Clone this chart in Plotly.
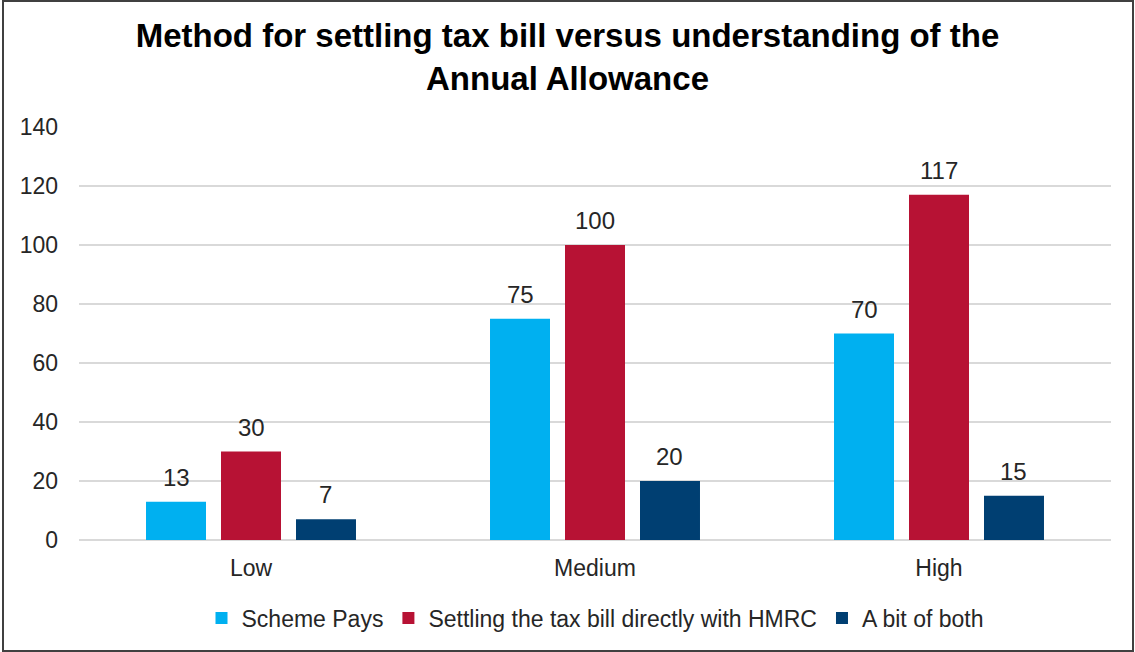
import plotly.graph_objects as go

categories = ["Low", "Medium", "High"]
scheme_pays = [13, 75, 70]
settling_hmrc = [30, 100, 117]
bit_of_both = [7, 20, 15]
series_names = ["Scheme Pays", "Settling the tax bill directly with HMRC", "A bit of both"]
colors = ["#00B0F0", "#B71234", "#003F72"]

W, H = 1135, 652
ml, mr, mt, mb = 79, 24, 127, 112
pw, ph = W - ml - mr, H - mt - mb
BARGAP, GROUPGAP = 0.346, 0.2
slot = (1 - BARGAP) / 3

xpos = list(range(len(categories)))
all_series = [scheme_pays, settling_hmrc, bit_of_both]

fig = go.Figure()
for name, vals, col in zip(series_names, all_series, colors):
    fig.add_trace(go.Bar(
        x=xpos, y=vals, name=name, marker_color=col, marker_line_width=0,
    ))

annotations = []
for k, vals in enumerate(all_series):
    for i, v in zip(xpos, vals):
        annotations.append(dict(
            x=i + (k - 1) * slot, y=v, xref="x", yref="y", text=str(v),
            showarrow=False, yanchor="bottom", yshift=9,
            font=dict(size=24, color="#262626"),
        ))

fig.update_layout(
    width=W, height=H,
    margin=dict(l=ml, r=mr, t=mt, b=mb),
    paper_bgcolor="white", plot_bgcolor="white",
    font=dict(family="Liberation Sans, Arial, sans-serif", size=23, color="#262626"),
    title=dict(
        text="<b>Method for settling tax bill versus understanding of the<br>Annual Allowance</b>",
        x=0.5, xanchor="center", y=1 - 47 / H, yanchor="middle",
        font=dict(size=33, color="#000000"),
    ),
    barmode="group", bargap=BARGAP, bargroupgap=GROUPGAP,
    legend=dict(
        orientation="h", x=0.5, xanchor="center", y=(540 - 618) / ph, yanchor="middle",
        font=dict(size=23, color="#262626"), traceorder="normal",
    ),
    yaxis=dict(
        range=[0, 140], dtick=20, showgrid=True, gridcolor="#D9D9D9", gridwidth=1.5,
        zeroline=True, zerolinecolor="#D9D9D9", zerolinewidth=1.5,
        showline=False, ticks="", ticklabelstandoff=20, tickfont=dict(size=23),
    ),
    xaxis=dict(
        range=[-0.5, len(categories) - 0.5], tickvals=xpos, ticktext=categories,
        showgrid=False, zeroline=False, showline=False, ticks="",
        ticklabelstandoff=12, tickfont=dict(size=23),
    ),
    annotations=annotations,
    showlegend=True,
)

fig.add_shape(
    type="rect", xref="paper", yref="paper",
    x0=(3 - ml) / pw, x1=(1133 - ml) / pw,
    y0=(540 - 651) / ph, y1=(540 - 1) / ph,
    line=dict(color="#404040", width=2), fillcolor="rgba(0,0,0,0)", layer="below",
)

fig.write_html("out.html")
